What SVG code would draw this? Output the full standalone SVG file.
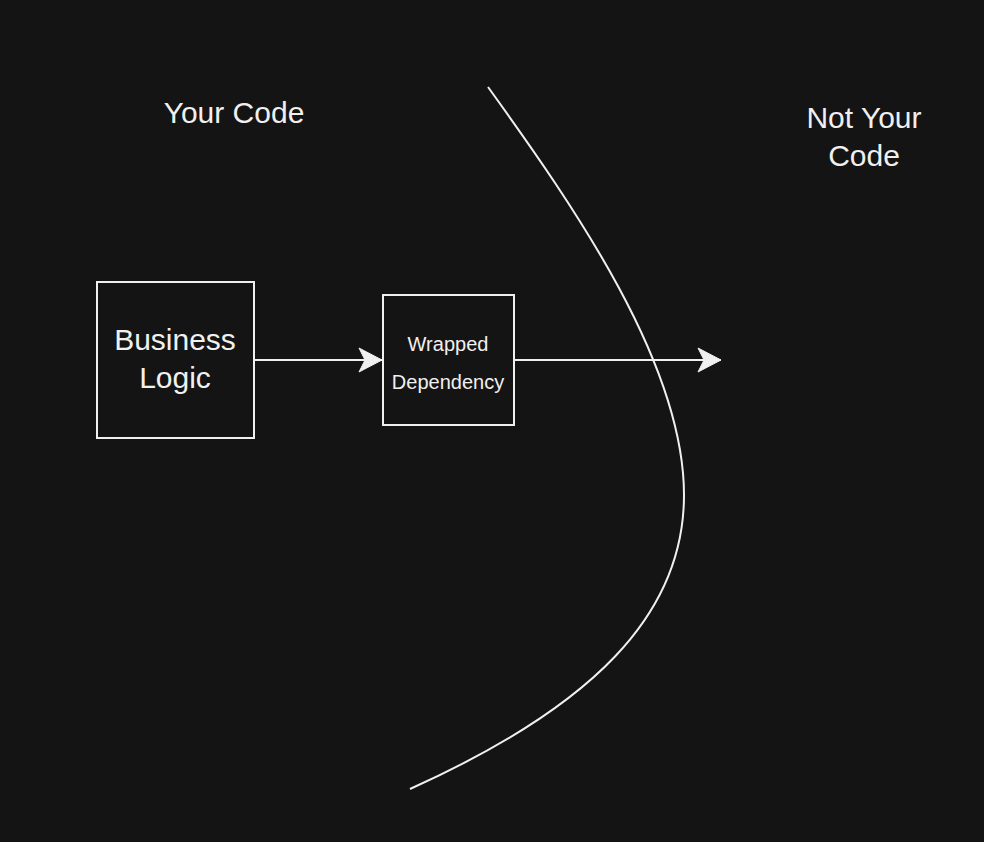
<svg xmlns="http://www.w3.org/2000/svg" width="984" height="842" viewBox="0 0 984 842">
  <style>
    .box { fill: #141414; stroke: #f0f0f0; stroke-width: 2; }
    .line { fill: none; stroke: #f0f0f0; stroke-width: 2; }
    .t { fill: #f0f0f0; font-family: "Liberation Sans", Arial, sans-serif; text-anchor: middle; }
  </style>
  <defs>
    <marker id="arrow" markerUnits="userSpaceOnUse" markerWidth="26" markerHeight="26" refX="24" refY="13" orient="auto" viewBox="0 0 26 26">
      <path d="M24,13 L1,1 L7,13 L1,25 Z" fill="#f0f0f0" stroke="#f0f0f0" stroke-width="1"/>
    </marker>
  </defs>
  <rect width="984" height="842" fill="#141414"/>
  <g id="boundary">
    <path class="line" d="M488,87 C576,209 684,365 684,495 C684,615 592,707 410,789"/>
  </g>
  <g id="your-code">
    <text class="t" x="234" y="123" font-size="30">Your Code</text>
  </g>
  <g id="not-your-code">
    <text class="t" x="864" y="128" font-size="30">Not Your</text>
    <text class="t" x="864" y="166" font-size="30">Code</text>
  </g>
  <g id="business-logic">
    <rect class="box" x="97" y="282" width="157" height="156"/>
    <text class="t" x="175" y="350" font-size="30">Business</text>
    <text class="t" x="175" y="388" font-size="30">Logic</text>
  </g>
  <g id="wrapped-dependency">
    <rect class="box" x="383" y="295" width="131" height="130"/>
    <text class="t" x="448" y="351" font-size="20">Wrapped</text>
    <text class="t" x="448" y="389" font-size="20">Dependency</text>
  </g>
  <g id="connectors">
    <line class="line" x1="254" y1="360" x2="382" y2="360" marker-end="url(#arrow)"/>
    <line class="line" x1="514" y1="360" x2="721" y2="360" marker-end="url(#arrow)"/>
  </g>
</svg>
